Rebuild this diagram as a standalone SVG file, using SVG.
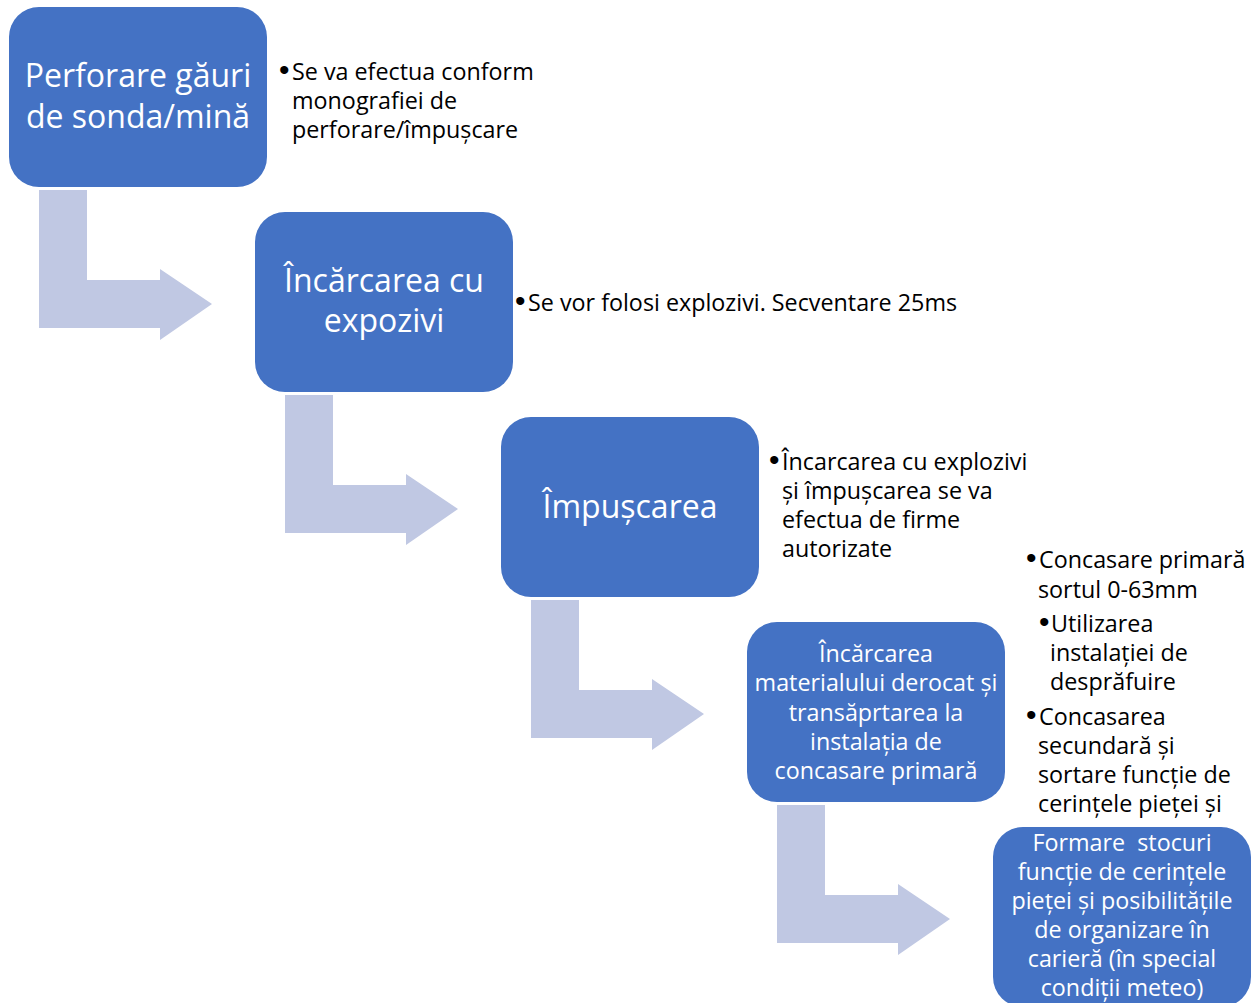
<svg xmlns="http://www.w3.org/2000/svg" width="1256" height="1003" viewBox="0 0 1256 1003">
  <defs>
    <style>
      .box { fill: #4472C4; }
      .arrow { fill: #C0C8E3; }
      .bt { font-family: "Open Sans", "Noto Sans", "Liberation Sans", sans-serif; fill: #FFFFFF; text-anchor: middle; }
      .big { font-size: 32px; }
      .small { font-size: 23.3px; }
      .note { font-family: "Open Sans", "Noto Sans", "Liberation Sans", sans-serif; font-size: 23.3px; fill: #000000; }
      .dot { font-family: "Liberation Sans", Arial, sans-serif; font-size: 30px; }
    </style>
    <path id="elbow" d="M0,0 H48 V90 H121 V79 L173,114 L121,150 V138 H0 Z"/>
  </defs>
  <rect width="1256" height="1003" fill="#FFFFFF"/>

  <g id="connectors">
    <use href="#elbow" class="arrow" x="39" y="190"/>
    <use href="#elbow" class="arrow" x="285" y="395"/>
    <use href="#elbow" class="arrow" x="531" y="600"/>
    <use href="#elbow" class="arrow" x="777" y="805"/>
  </g>

  <g id="node1">
    <rect class="box" x="9" y="7" width="258" height="180" rx="30"/>
    <text class="bt big" x="138" y="87">Perforare găuri</text>
    <text class="bt big" x="138" y="128">de sonda/mină</text>
  </g>
  <g id="note1">
    <text class="note" x="279" y="80"><tspan class="dot">•</tspan><tspan x="292">Se va efectua conform</tspan></text>
    <text class="note" x="292" y="109">monografiei de</text>
    <text class="note" x="292" y="138">perforare/împușcare</text>
  </g>

  <g id="node2">
    <rect class="box" x="255" y="212" width="258" height="180" rx="30"/>
    <text class="bt big" x="384" y="292">Încărcarea cu</text>
    <text class="bt big" x="384" y="332">expozivi</text>
  </g>
  <g id="note2">
    <text class="note" x="515" y="311"><tspan class="dot">•</tspan><tspan x="528">Se vor folosi explozivi. Secventare 25ms</tspan></text>
  </g>

  <g id="node3">
    <rect class="box" x="501" y="417" width="258" height="180" rx="30"/>
    <text class="bt big" x="630" y="518">Împușcarea</text>
  </g>
  <g id="note3">
    <text class="note" x="769" y="470"><tspan class="dot">•</tspan><tspan x="782">Încarcarea cu explozivi</tspan></text>
    <text class="note" x="782" y="499">și împușcarea se va</text>
    <text class="note" x="782" y="528">efectua de firme</text>
    <text class="note" x="782" y="557">autorizate</text>
  </g>

  <g id="node4">
    <rect class="box" x="747" y="622" width="258" height="180" rx="30"/>
    <text class="bt small" x="876" y="662">Încărcarea</text>
    <text class="bt small" x="876" y="691">materialului derocat și</text>
    <text class="bt small" x="876" y="721">transăprtarea la</text>
    <text class="bt small" x="876" y="750">instalația de</text>
    <text class="bt small" x="876" y="779">concasare primară</text>
  </g>
  <g id="note4">
    <text class="note" x="1026" y="568"><tspan class="dot">•</tspan><tspan x="1039">Concasare primară</tspan></text>
    <text class="note" x="1038" y="598">sortul 0-63mm</text>
    <text class="note" x="1039" y="632"><tspan class="dot">•</tspan><tspan x="1051">Utilizarea</tspan></text>
    <text class="note" x="1050" y="661">instalației de</text>
    <text class="note" x="1050" y="690">desprăfuire</text>
    <text class="note" x="1026" y="725"><tspan class="dot">•</tspan><tspan x="1039">Concasarea</tspan></text>
    <text class="note" x="1038" y="754">secundară și</text>
    <text class="note" x="1038" y="783">sortare funcție de</text>
    <text class="note" x="1038" y="812">cerințele pieței și</text>
  </g>

  <g id="node5">
    <rect class="box" x="993" y="827" width="258" height="180" rx="30"/>
    <text class="bt small" x="1122" y="851" xml:space="preserve">Formare  stocuri</text>
    <text class="bt small" x="1122" y="880">funcție de cerințele</text>
    <text class="bt small" x="1122" y="909">pieței și posibilitățile</text>
    <text class="bt small" x="1122" y="938">de organizare în</text>
    <text class="bt small" x="1122" y="967">carieră (în special</text>
    <text class="bt small" x="1122" y="996">condiții meteo)</text>
  </g>
</svg>
